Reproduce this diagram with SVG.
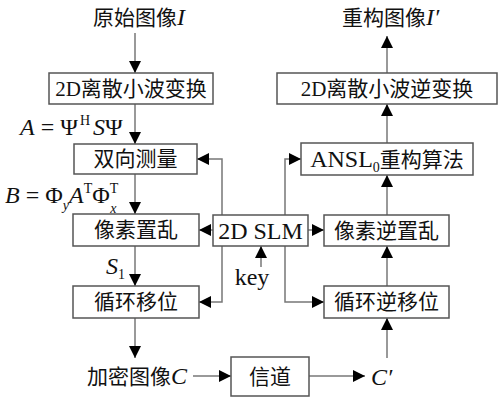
<svg xmlns="http://www.w3.org/2000/svg" width="500" height="401" viewBox="0 0 500 401">
<defs>
<marker id="ah" markerUnits="userSpaceOnUse" markerWidth="12" markerHeight="12" viewBox="0 0 12 12" refX="12" refY="6" orient="auto">
<path d="M0,0 L12,6 L0,12 z" fill="#000"/>
</marker>
<style>
.box{fill:#fff;stroke:#555;stroke-width:1.5}
.t{font-family:"Liberation Serif","Noto Sans CJK SC",serif;font-size:21px;fill:#111}
.m{font-size:24px}
.s{font-size:14px}
.c{text-anchor:middle}
.i{font-style:italic}
.ln{fill:none;stroke:#777;stroke-width:1.5;marker-end:url(#ah)}
</style>
</defs>
<rect width="500" height="401" fill="#fff"/>
<g id="connectors">
<path class="ln" d="M135,33 V73"/>
<path class="ln" d="M135,104 V144"/>
<path class="ln" d="M135,174 V214"/>
<path class="ln" d="M135,246 V286"/>
<path class="ln" d="M135,318 V358"/>
<path class="ln" d="M193,376 H231"/>
<path class="ln" d="M309,376 H365"/>
<path class="ln" d="M387,358 V318"/>
<path class="ln" d="M387,286 V246"/>
<path class="ln" d="M387,215 V175"/>
<path class="ln" d="M387,143 V104"/>
<path class="ln" d="M387,73 V36"/>
<path class="ln" d="M222,215 V159 H197"/>
<path class="ln" d="M222,246 V302 H199"/>
<path class="ln" d="M213,230 H199"/>
<path class="ln" d="M285,215 V159 H301"/>
<path class="ln" d="M285,246 V302 H324"/>
<path class="ln" d="M308,230 H324"/>
<path class="ln" d="M261,267 V246"/>
</g>
<g id="n-input"><text class="t" x="93" y="25">原始图像<tspan class="i m">I</tspan></text></g>
<g id="n-dwt"><rect class="box" x="49" y="73" width="164" height="31"/><text class="t c" x="131" y="96">2D离散小波变换</text></g>
<g id="lbl-A"><text class="t m" x="20" y="135"><tspan class="i">A</tspan> = Ψ<tspan class="s" dy="-10" dx="2">H</tspan><tspan class="i" dy="10" dx="3">S</tspan>Ψ</text></g>
<g id="n-measure"><rect class="box" x="74" y="144" width="123" height="30"/><text class="t c" x="135.5" y="166">双向测量</text></g>
<g id="lbl-B"><text class="t m" x="5" y="203"><tspan class="i">B</tspan> = Φ<tspan class="i s" dy="7">y</tspan><tspan class="i" dy="-7">A</tspan><tspan class="s" dy="-10">T</tspan><tspan dy="10">Φ</tspan><tspan class="s" dy="-10">T</tspan><tspan class="i s" dx="-8" dy="20">x</tspan></text></g>
<g id="n-scramble"><rect class="box" x="73" y="214" width="126" height="32"/><text class="t c" x="136" y="237">像素置乱</text></g>
<g id="lbl-S1"><text class="t m" x="106" y="274"><tspan class="i">S</tspan><tspan class="s" dy="5">1</tspan></text></g>
<g id="n-shift"><rect class="box" x="73" y="286" width="126" height="32"/><text class="t c" x="136" y="309">循环移位</text></g>
<g id="n-cipher"><text class="t" x="87" y="384">加密图像<tspan class="i m">C</tspan></text></g>
<g id="n-channel"><rect class="box" x="231" y="357" width="78" height="39"/><text class="t c" x="270" y="384">信道</text></g>
<g id="n-cprime"><text class="t i m" x="371" y="385">C′</text></g>
<g id="n-slm"><rect class="box" x="213" y="215" width="95" height="31"/><text class="t c m" x="260.5" y="239">2D SLM</text></g>
<g id="n-key"><text class="t c m" x="252" y="285">key</text></g>
<g id="n-ishift"><rect class="box" x="324" y="286" width="125" height="32"/><text class="t c" x="386.5" y="309">循环逆移位</text></g>
<g id="n-iscramble"><rect class="box" x="324" y="215" width="125" height="31"/><text class="t c" x="386.5" y="238">像素逆置乱</text></g>
<g id="n-ansl"><rect class="box" x="301" y="143" width="172" height="32"/><text class="t c" x="387" y="167"><tspan class="m">ANSL</tspan><tspan class="s" dy="5">0</tspan><tspan dy="-5">重构算法</tspan></text></g>
<g id="n-idwt"><rect class="box" x="277" y="73" width="220" height="31"/><text class="t c" x="387" y="96">2D离散小波逆变换</text></g>
<g id="n-output"><text class="t" x="342" y="25">重构图像<tspan class="i m">I′</tspan></text></g>
</svg>
